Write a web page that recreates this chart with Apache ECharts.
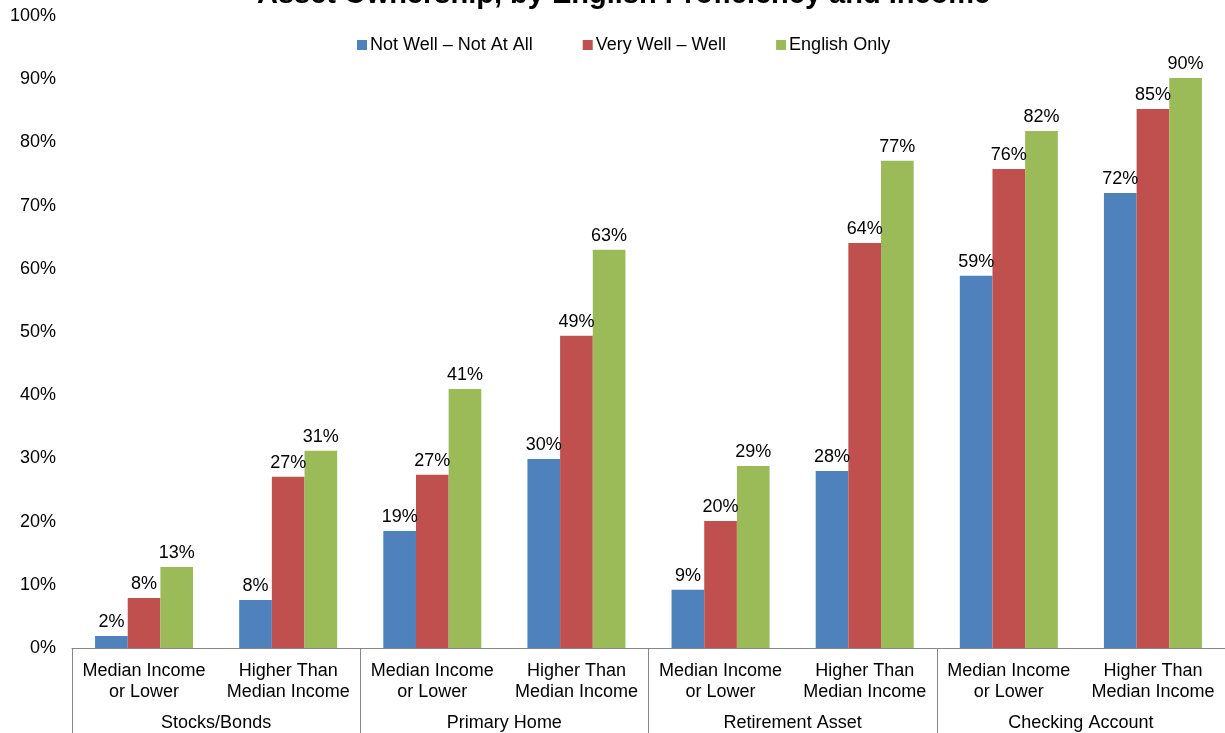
<!DOCTYPE html>
<html>
<head>
<meta charset="utf-8">
<script src="https://cdn.jsdelivr.net/npm/echarts@6/dist/echarts.min.js"></script>
<style>
html,body{margin:0;padding:0;background:#fff;}
#chart{width:1225px;height:733px;}
</style>
</head>
<body>
<div id="chart"></div>
<script>
var subCategories = [
  'Median Income\nor Lower','Higher Than\nMedian Income',
  'Median Income\nor Lower','Higher Than\nMedian Income',
  'Median Income\nor Lower','Higher Than\nMedian Income',
  'Median Income\nor Lower','Higher Than\nMedian Income'
];
var groupCategories = ['Stocks/Bonds','Primary Home','Retirement Asset','Checking Account'];
var seriesNames = ['Not Well \u2013 Not At All','Very Well \u2013 Well','English Only'];
var notWell   = [1.9, 7.6, 18.5, 29.9, 9.2, 28.0, 58.9, 72.0];
var veryWell  = [7.9, 27.1, 27.4, 49.4, 20.1, 64.1, 75.8, 85.3];
var engOnly   = [12.8, 31.2, 41.0, 63.0, 28.8, 77.1, 81.8, 90.2];
var yTicks = [0,10,20,30,40,50,60,70,80,90,100];
var colors = ['#4F81BD','#C0504D','#9BBB59'];

var font = 'Arial, "Liberation Sans", sans-serif';
var chart = echarts.init(document.getElementById('chart'));
function mk(name, data, color){
  return {
    name: name, type: 'bar', data: data, xAxisIndex: 0,
    barGap: '0%', barCategoryGap: '32%',
    itemStyle: {color: color},
    label: {show: true, position: 'top', distance: 5, color: '#000', fontSize: 18, fontFamily: font,
      formatter: function(p){ return Math.round(p.value) + '%'; }}
  };
}
chart.setOption({
  animation: false,
  title: {
    text: 'Asset Ownership, by English Proficiency and Income',
    left: 252, top: -25,
    textStyle: {fontSize: 29, fontWeight: 'bold', color: '#000', fontFamily: font}
  },
  legend: {
    data: seriesNames, top: 31, left: 352, itemWidth: 10, itemHeight: 10, itemGap: 50,
    icon: 'rect',
    textStyle: {fontSize: 18, color: '#000', fontFamily: font, padding: [0,0,0,-2]}
  },
  grid: {left: 72, right: -1, top: 16, bottom: 85},
  xAxis: [
    {type: 'category', data: subCategories, position: 'bottom',
      axisLine: {show: true, lineStyle: {color: '#868686'}},
      axisTick: {show: false},
      axisLabel: {color: '#000', fontSize: 18, fontFamily: font, lineHeight: 21, margin: 13, interval: 0}},
    {type: 'category', data: groupCategories, position: 'bottom',
      axisLine: {show: false},
      axisTick: {show: true, length: 100, lineStyle: {color: '#868686'}},
      axisLabel: {color: '#000', fontSize: 18, fontFamily: font, margin: 66, interval: 0}}
  ],
  yAxis: {
    type: 'value', min: 0, max: 100, interval: 10,
    axisLine: {show: false}, axisTick: {show: false}, splitLine: {show: false},
    axisLabel: {color: '#000', fontSize: 18, fontFamily: font, margin: 16,
      formatter: function(v){ return yTicks.indexOf(v) >= 0 ? v + '%' : ''; }}
  },
  series: [
    mk(seriesNames[0], notWell, colors[0]),
    mk(seriesNames[1], veryWell, colors[1]),
    mk(seriesNames[2], engOnly, colors[2])
  ]
});
</script>
</body>
</html>
